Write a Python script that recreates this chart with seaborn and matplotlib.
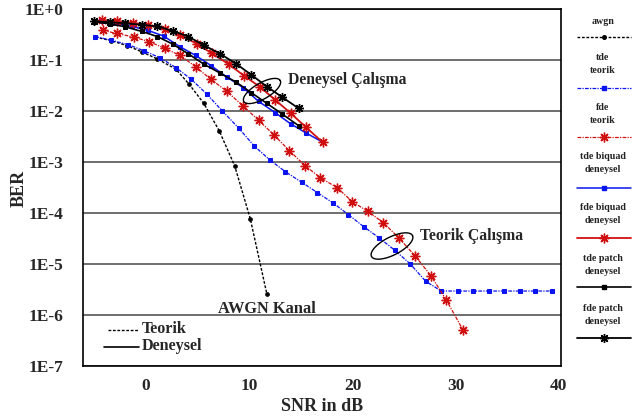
import numpy as np
import pandas as pd
import matplotlib
matplotlib.use("Agg")
import matplotlib.pyplot as plt
from matplotlib.lines import Line2D
from matplotlib.ticker import FixedLocator, FuncFormatter, LogLocator, NullFormatter
import seaborn as sns

# --- data (SNR in dB, log10 of BER) ---
awgn_snr = [-4.9, -3.4, -1.8, -0.4, 1.1, 2.9, 4.2, 5.6, 7.1, 8.6, 10.1, 11.7]
awgn_log = [-0.55, -0.62, -0.72, -0.84, -0.98, -1.18, -1.48, -1.85, -2.39, -3.08, -4.11, -5.58]

tde_teo_snr = [-4.9, -3.4, -1.7, -0.2, 1.4, 2.9, 4.4, 5.9, 7.4, 9.0, 10.5, 12.0, 13.5, 15.1, 16.6,
               18.1, 19.6, 21.1, 22.6, 24.1, 25.6, 27.1, 28.6, 30.2, 31.7, 33.2, 34.7, 36.2, 37.7, 39.3]
tde_teo_log = [-0.54, -0.61, -0.70, -0.82, -0.96, -1.15, -1.38, -1.67, -2.00, -2.34, -2.69, -2.96, -3.19,
               -3.40, -3.60, -3.80, -4.03, -4.27, -4.49, -4.73, -5.00, -5.34, -5.53, -5.53, -5.53, -5.53,
               -5.53, -5.53, -5.53, -5.53]

fde_teo_snr = [-4.2, -2.8, -1.2, 0.3, 1.8, 3.3, 4.8, 6.3, 7.8, 9.4, 10.9, 12.4, 13.9, 15.4, 16.9,
               18.5, 20.0, 21.5, 23.0, 24.5, 26.1, 27.6, 29.1, 30.7]
fde_teo_log = [-0.42, -0.48, -0.55, -0.64, -0.77, -0.91, -1.13, -1.38, -1.61, -1.90, -2.18, -2.47, -2.78,
               -3.07, -3.31, -3.50, -3.78, -3.97, -4.19, -4.49, -4.85, -5.23, -5.71, -6.29]

tde_biq_snr = [-4.4, -2.9, -1.4, 0.2, 1.7, 3.3, 4.8, 6.3, 7.8, 9.4, 10.9, 12.5, 14.0, 15.5, 17.1]
tde_biq_log = [-0.24, -0.28, -0.34, -0.42, -0.53, -0.74, -0.91, -1.11, -1.33, -1.54, -1.81, -2.03,
               -2.25, -2.43, -2.61]

fde_biq_snr = [-4.3, -2.8, -1.3, 0.2, 1.8, 3.3, 4.9, 6.4, 8.0, 9.5, 11.0, 12.5, 14.0, 15.5, 17.1]
fde_biq_log = [-0.22, -0.24, -0.27, -0.32, -0.39, -0.51, -0.68, -0.87, -1.08, -1.31, -1.52, -1.78,
               -2.04, -2.32, -2.61]

tde_pat_snr = [-5.0, -3.5, -2.0, -0.4, 1.1, 2.6, 4.1, 5.6, 7.2, 8.7, 10.2, 11.7, 13.2, 14.8]
tde_pat_log = [-0.25, -0.29, -0.35, -0.44, -0.54, -0.69, -0.88, -1.08, -1.26, -1.43, -1.64, -1.85,
               -2.06, -2.29]

fde_pat_snr = [-5.0, -3.5, -2.0, -0.4, 1.1, 2.6, 4.1, 5.6, 7.2, 8.7, 10.2, 11.7, 13.2, 14.8]
fde_pat_log = [-0.24, -0.26, -0.28, -0.31, -0.34, -0.43, -0.54, -0.71, -0.88, -1.07, -1.29, -1.52,
               -1.73, -1.95]

legend_labels = ["awgn", "tde\nteorik", "fde\nteorik", "tde biquad\ndeneysel",
                 "fde biquad\ndeneysel", "tde patch\ndeneysel", "fde patch\ndeneysel"]

BLUE = "#0a14f0"
RED = "#d01010"
AST = (8, 2, 0)
DOT = (0, (2, 1.2))
DASHDOT = (0, (3, 1, 1, 1))

series = [
    (awgn_snr, awgn_log, dict(color="black", linestyle=DOT, lw=1.0, marker="o", ms=2.6)),
    (tde_teo_snr, tde_teo_log, dict(color=BLUE, linestyle=DASHDOT, lw=0.9, marker="s", ms=2.8)),
    (fde_teo_snr, fde_teo_log, dict(color=RED, linestyle=DASHDOT, lw=0.9, marker=AST, ms=7, mew=1.0)),
    (tde_biq_snr, tde_biq_log, dict(color=BLUE, linestyle="-", lw=1.1, marker="s", ms=2.8)),
    (fde_biq_snr, fde_biq_log, dict(color=RED, linestyle="-", lw=1.3, marker=AST, ms=7, mew=1.0)),
    (tde_pat_snr, tde_pat_log, dict(color="black", linestyle="-", lw=1.2, marker="s", ms=2.6)),
    (fde_pat_snr, fde_pat_log, dict(color="black", linestyle="-", lw=1.3, marker=AST, ms=6.5, mew=1.0)),
]

sns.set_style("white")
plt.rcParams["font.family"] = ["Liberation Serif", "DejaVu Serif"]
plt.rcParams["font.weight"] = "bold"

W, H = 640, 416
fig = plt.figure(figsize=(W / 100, H / 100), dpi=100)
ax = fig.add_axes([83 / W, 1 - 366 / H, (561 - 83) / W, (366 - 9) / H])

for snr, lg, style in series:
    df = pd.DataFrame({"snr": snr, "ber": np.power(10.0, lg)})
    sns.lineplot(data=df, x="snr", y="ber", ax=ax, estimator=None, sort=False,
                 markeredgecolor=style["color"], **style)

ax.set_yscale("log")
ax.set_ylim(1e-7, 1e0)
ax.set_xlim(-6.1, 40.2)

# y axis: decade grid lines, inward ticks, 1E-n labels
ax.yaxis.set_major_locator(FixedLocator([10.0 ** k for k in range(-7, 1)]))
ax.yaxis.set_major_formatter(FuncFormatter(lambda v, p: "1E+0" if v >= 1 else "1E%d" % round(np.log10(v))))
ax.yaxis.set_minor_locator(LogLocator(base=10, subs=np.arange(2, 10), numticks=20))
ax.yaxis.set_minor_formatter(NullFormatter())
ax.grid(axis="y", which="major", color="#555555", lw=1.2)
ax.grid(axis="x", visible=False)

ax.xaxis.set_major_locator(FixedLocator([0, 10, 20, 30, 40]))
ax.xaxis.set_minor_locator(FixedLocator([-5, 5, 15, 25, 35]))
ax.tick_params(axis="both", which="both", direction="in", top=False, right=False)
ax.tick_params(axis="y", which="major", length=7, width=1.2, labelsize=12.5, pad=14)
ax.tick_params(axis="y", which="minor", length=4, width=0.8)
ax.tick_params(axis="x", which="both", length=5, width=1.0, labelsize=12.5, pad=9)
for lab in ax.get_xticklabels() + ax.get_yticklabels():
    lab.set_fontweight("bold")
for sp in ax.spines.values():
    sp.set_color("black")
    sp.set_linewidth(1.2)

ax.set_xlabel("SNR in dB", fontsize=13, fontweight="bold")
ax.set_ylabel("BER", fontsize=13, fontweight="bold")
ax.xaxis.set_label_coords(0.5, -(398 - 366) / (366 - 9))
ax.yaxis.set_label_coords(-(83 - 28) / (561 - 83), (366 - 188) / (366 - 9))


def px(x, y):
    return x / W, 1 - y / H


def ellipse(cx, cy, a, b, ang):
    t = np.linspace(0, 2 * np.pi, 120)
    th = np.radians(ang)
    xs = cx + a * np.cos(t) * np.cos(th) + b * np.sin(t) * np.sin(th)
    ys = cy - a * np.cos(t) * np.sin(th) + b * np.sin(t) * np.cos(th)
    fig.add_artist(Line2D(xs / W, 1 - ys / H, color="black", lw=1.0))


ellipse(262, 91, 21, 8, 30)
ellipse(392, 246, 23, 9, 27)
fig.text(*px(288, 80), "Deneysel Çalışma", fontsize=11.3, fontweight="bold", va="center", ha="left")
fig.text(*px(420, 236), "Teorik Çalışma", fontsize=11.3, fontweight="bold", va="center", ha="left")
fig.text(*px(218, 309), "AWGN Kanal", fontsize=11.8, fontweight="bold", va="center", ha="left")

# inner legend
fig.add_artist(Line2D([108 / W, 139 / W], [1 - 330 / H] * 2, color="black", lw=1.0, linestyle=DOT))
fig.add_artist(Line2D([104 / W, 139 / W], [1 - 347 / H] * 2, color="black", lw=1.2))
fig.text(*px(142, 329), "Teorik", fontsize=11.6, fontweight="bold", va="center", ha="left")
fig.text(*px(142, 346), "Deneysel", fontsize=11.6, fontweight="bold", va="center", ha="left")

# right-hand legend
text_y = [21, 64, 114, 163, 214, 265, 315]
line_y = [37, 88, 137, 188, 238, 287, 338]
for (snr, lg, style), lab, ty, ly in zip(series, legend_labels, text_y, line_y):
    fig.text(*px(603, ty), lab, fontsize=7.2, fontweight="bold", ha="center", va="center",
             linespacing=1.45, color="#222222")
    st = dict(style)
    fig.add_artist(Line2D([577 / W, 631 / W], [1 - ly / H] * 2, color=st["color"],
                          linestyle=st["linestyle"], lw=st["lw"]))
    fig.add_artist(Line2D([604 / W], [1 - ly / H], color=st["color"], marker=st["marker"],
                          ms=st["ms"], mew=st.get("mew", 1.0), markeredgecolor=st["color"]))

fig.savefig("out.png", dpi=100)
